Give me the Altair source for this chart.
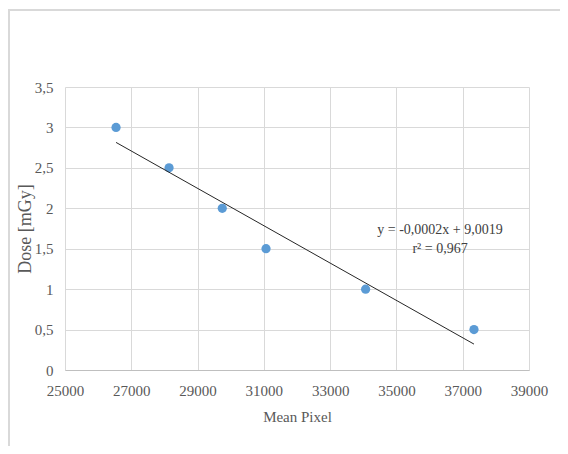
import altair as alt
import pandas as pd

mean_pixel = [26540, 28140, 29745, 31065, 34070, 37340]
dose = [3.0, 2.5, 2.0, 1.5, 1.0, 0.5]
x_ticks = [25000, 27000, 29000, 31000, 33000, 35000, 37000, 39000]
y_ticks = [0, 0.5, 1, 1.5, 2, 2.5, 3, 3.5]
eq_lines = ["y = -0,0002x + 9,0019", "r² = 0,967"]

df = pd.DataFrame({"x": mean_pixel, "y": dose})

FONT = "Liberation Serif"
GREY = "#595959"

xs = alt.Scale(domain=[25000, 39000], nice=False, zero=False)
ys = alt.Scale(domain=[0, 3.5], nice=False)

base = alt.Chart(df)

points = base.mark_circle(size=85, color="#5b9bd5", opacity=1).encode(
    x=alt.X("x:Q", scale=xs, title="Mean Pixel",
            axis=alt.Axis(values=x_ticks, format="d", grid=True, ticks=False,
                          labelFlush=False, labelOverlap=False,
                          domainColor="#bfbfbf", labelPadding=13, titlePadding=11)),
    y=alt.Y("y:Q", scale=ys, title="Dose [mGy]",
            axis=alt.Axis(values=y_ticks, grid=True, ticks=False, domain=False,
                          labelFlush=False, labelOverlap=False,
                          labelExpr="replace(format(datum.value, '~g'), '.', ',')",
                          labelPadding=12, titlePadding=0, titleFontSize=18)),
)

trend = base.transform_regression("x", "y").mark_line(color="#262626", strokeWidth=1).encode(
    x=alt.X("x:Q", scale=xs),
    y=alt.Y("y:Q", scale=ys),
)

eq1 = alt.Chart(pd.DataFrame({"t": [eq_lines[0]]})).mark_text(
    font=FONT, fontSize=14, color="#404040", align="center", baseline="middle"
).encode(x=alt.value(375), y=alt.value(143), text="t:N")
eq2 = alt.Chart(pd.DataFrame({"t": [eq_lines[1]]})).mark_text(
    font=FONT, fontSize=14, color="#404040", align="center", baseline="middle"
).encode(x=alt.value(375), y=alt.value(162), text="t:N")

border_top = alt.Chart(df).mark_rule(color="#d9d9d9", strokeWidth=1.5).encode(
    x=alt.value(-57), x2=alt.value(500), y=alt.value(-77)
)
border_left = alt.Chart(df).mark_rule(color="#d9d9d9", strokeWidth=1.5).encode(
    x=alt.value(-56), y=alt.value(-77), y2=alt.value(360)
)

chart = alt.layer(border_top, border_left, points, trend, eq1, eq2).properties(
    width=464, height=283,
    autosize=alt.AutoSizeParams(type="none"),
    padding={"left": 57, "top": 79, "right": 31, "bottom": 76},
).configure(background="white").configure_view(stroke=None).configure_axis(
    labelFont=FONT, titleFont=FONT, labelFontSize=15, titleFontSize=15,
    labelColor=GREY, titleColor=GREY, titleFontWeight="normal",
    gridColor="#d9d9d9", gridWidth=1,
)

chart.save("out.html", embed_options={"renderer": "svg", "actions": False})
